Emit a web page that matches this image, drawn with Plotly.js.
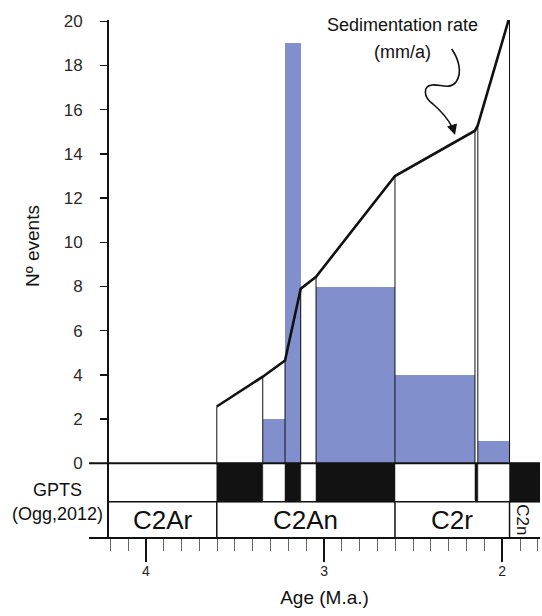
<!DOCTYPE html>
<html>
<head>
<meta charset="utf-8">
<script src="https://cdn.plot.ly/plotly-3.0.1.min.js"></script>
<style>
  html, body { margin: 0; padding: 0; background: #ffffff; }
  #chart { width: 542px; height: 616px; }
</style>
</head>
<body>
<div id="chart"></div>
<script>
// ---- data ----
// sedimentation-rate curve (vertices at GPTS boundaries), age in Ma
const sedAge  = [3.602, 3.344, 3.219, 3.131, 3.045, 2.602, 2.153, 2.137, 1.959];
const sedRate = [2.57, 3.92, 4.65, 7.9, 8.44, 13.0, 15.05, 15.3, 20.2];

// number of events per interval
const binStart = [3.344, 3.219, 3.045, 2.602, 2.137];
const binEnd   = [3.219, 3.131, 2.602, 2.153, 1.959];
const events   = [2, 19, 8, 4, 1];

// GPTS normal-polarity (black) intervals
const polStart = [3.602, 3.219, 3.045, 2.153, 1.959];
const polEnd   = [3.344, 3.131, 2.602, 2.137, 1.788];

// chrons
const chronNames = ['C2Ar', 'C2An', 'C2r', 'C2n'];
const chronStart = [4.207, 3.602, 2.602, 1.959];
const chronEnd   = [3.602, 2.602, 1.959, 1.788];

const yTicks = [0, 2, 4, 6, 8, 10, 12, 14, 16, 18, 20];
const xTicks = [4, 3, 2];

// ---- layout constants ----
const FONT = 'Liberation Sans, Arial, sans-serif';
const X_RANGE = [4.207, 1.788];
const Y_RANGE = [-3.38, 20.06];
const POL_TOP = 0, POL_BOT = -1.74, CHR_BOT = -3.38;
const M = {l: 109, r: 2, t: 20, b: 78};
const PW = 542 - M.l - M.r, PH = 616 - M.t - M.b;
// pixel -> paper helper for the decorative arrow path
function P(x, y) { return ((x - M.l) / PW).toFixed(4) + ' ' + ((616 - M.b - y) / PH).toFixed(4); }

// vertical outline lines from 0 up to the curve
const vx = [], vy = [];
sedAge.forEach((a, i) => { vx.push(a, a, null); vy.push(0, sedRate[i], null); });

const traces = [
  {
    type: 'bar',
    x: binStart.map((s, i) => (s + binEnd[i]) / 2),
    width: binStart.map((s, i) => s - binEnd[i]),
    y: events, base: 0,
    marker: {color: '#8190cc', line: {width: 0}},
    hoverinfo: 'skip', showlegend: false
  },
  {
    type: 'bar',
    x: polStart.map((s, i) => (s + polEnd[i]) / 2),
    width: polStart.map((s, i) => s - polEnd[i]),
    y: polStart.map(() => POL_TOP - POL_BOT), base: POL_BOT,
    marker: {color: '#121212', line: {color: '#121212', width: 0.5}},
    hoverinfo: 'skip', showlegend: false
  },
  {
    type: 'scatter', mode: 'lines', x: vx, y: vy,
    line: {color: '#111', width: 1}, hoverinfo: 'skip', showlegend: false
  },
  {
    type: 'scatter', mode: 'lines', x: sedAge, y: sedRate,
    line: {color: '#111', width: 2.6}, hoverinfo: 'skip', showlegend: false
  }
];

const shapes = [
  // zero line extending into the left margin
  {type: 'line', xref: 'paper', yref: 'y', x0: -0.0464, x1: 1, y0: 0, y1: 0, line: {color: '#111', width: 2}},
  // bottom axis line extending into the left margin
  {type: 'line', xref: 'paper', yref: 'paper', x0: -0.0464, x1: 1, y0: 0, y1: 0, line: {color: '#111', width: 2}},
  // separator between polarity band and chron band
  {type: 'line', xref: 'paper', yref: 'y', x0: 0, x1: 1, y0: POL_BOT, y1: POL_BOT, line: {color: '#111', width: 1.5}},
  // squiggly arrow
  {type: 'path', xref: 'paper', yref: 'paper',
   path: 'M ' + P(451.7, 49) + ' C ' + P(458, 58) + ' ' + P(463, 72) + ' ' + P(456, 82) +
         ' C ' + P(450, 90) + ' ' + P(440, 84) + ' ' + P(432, 85) +
         ' C ' + P(423, 86) + ' ' + P(423, 97) + ' ' + P(433, 104) +
         ' C ' + P(441, 111) + ' ' + P(448, 119) + ' ' + P(452, 127),
   line: {color: '#111', width: 1.6}}
];
// chron band vertical separators
chronStart.forEach((s, i) => {
  if (i > 0) shapes.push({type: 'line', xref: 'x', yref: 'y', x0: s, x1: s, y0: CHR_BOT, y1: POL_BOT,
                          line: {color: '#111', width: 1.5}});
});
// narrow C2n box: label drawn as a rotated shape label
shapes.push({
  type: 'rect', xref: 'x', yref: 'y',
  x0: chronStart[3], x1: chronEnd[3], y0: CHR_BOT, y1: POL_BOT,
  line: {width: 0}, fillcolor: 'rgba(0,0,0,0)',
  label: {text: chronNames[3], textangle: 90, textposition: 'middle center',
          font: {family: FONT, size: 17, color: '#111'}}
});

const annotations = [
  {xref: 'paper', yref: 'paper', x: (32 - M.l) / PW, y: (538 - 246) / PH, text: 'Nº events',
   textangle: -90, showarrow: false, xanchor: 'center', yanchor: 'middle',
   font: {family: FONT, size: 19, color: '#111'}},
  {xref: 'paper', yref: 'y', x: (57 - M.l) / PW, y: -1.21, text: 'GPTS', showarrow: false,
   xanchor: 'center', yanchor: 'middle', font: {family: FONT, size: 18, color: '#111'}},
  {xref: 'paper', yref: 'y', x: (57 - M.l) / PW, y: -2.29, text: '(Ogg,2012)', showarrow: false,
   xanchor: 'center', yanchor: 'middle', font: {family: FONT, size: 18, color: '#111'}},
  {xref: 'x', yref: 'y', x: 2.562, y: 19.83, text: 'Sedimentation rate', showarrow: false,
   xanchor: 'center', yanchor: 'middle', font: {family: FONT, size: 18, color: '#111'}},
  {xref: 'x', yref: 'y', x: 2.559, y: 18.62, text: '(mm/a)', showarrow: false,
   xanchor: 'center', yanchor: 'middle', font: {family: FONT, size: 18, color: '#111'}},
  // arrow head of the squiggle
  {xref: 'paper', yref: 'paper', x: (455 - M.l) / PW, y: (538 - 135) / PH, ax: -3, ay: -10,
   text: '', showarrow: true, arrowhead: 2, arrowsize: 1.3, arrowwidth: 1.6, arrowcolor: '#111'}
];
// horizontal chron labels
for (let i = 0; i < 3; i++) {
  annotations.push({
    xref: 'x', yref: 'y', x: (chronStart[i] + chronEnd[i]) / 2, y: (POL_BOT + CHR_BOT) / 2,
    text: chronNames[i], showarrow: false, xanchor: 'center', yanchor: 'middle',
    font: {family: FONT, size: 26, color: '#111'}
  });
}

const layout = {
  width: 542, height: 616,
  margin: M,
  paper_bgcolor: '#ffffff', plot_bgcolor: '#ffffff',
  barmode: 'overlay', bargap: 0,
  showlegend: false, hovermode: false,
  xaxis: {
    range: X_RANGE, autorange: false,
    tickmode: 'array', tickvals: xTicks, ticktext: xTicks.map(String),
    ticks: 'outside', ticklen: 23, tickwidth: 2, tickcolor: '#111',
    tickfont: {family: FONT, size: 14, color: '#222'},
    ticklabelstandoff: -3,
    minor: {tickmode: 'linear', tick0: 0, dtick: 0.1, ticks: 'outside', ticklen: 12, tickwidth: 1, tickcolor: '#666', showgrid: false},
    showline: false, showgrid: false, zeroline: false,
    title: {text: 'Age (M.a.)', font: {family: FONT, size: 19, color: '#111'}, standoff: 12}
  },
  yaxis: {
    range: Y_RANGE, autorange: false,
    tickmode: 'array', tickvals: yTicks, ticktext: yTicks.map(String),
    ticks: 'outside', ticklen: 7, tickwidth: 1.5, tickcolor: '#111',
    tickfont: {family: FONT, size: 17, color: '#2a2a2a'},
    ticklabelstandoff: 14,
    showline: true, linewidth: 2, linecolor: '#111',
    showgrid: false, zeroline: false
  },
  shapes: shapes,
  annotations: annotations
};

Plotly.newPlot('chart', traces, layout, {staticPlot: true, displayModeBar: false});
</script>
</body>
</html>
